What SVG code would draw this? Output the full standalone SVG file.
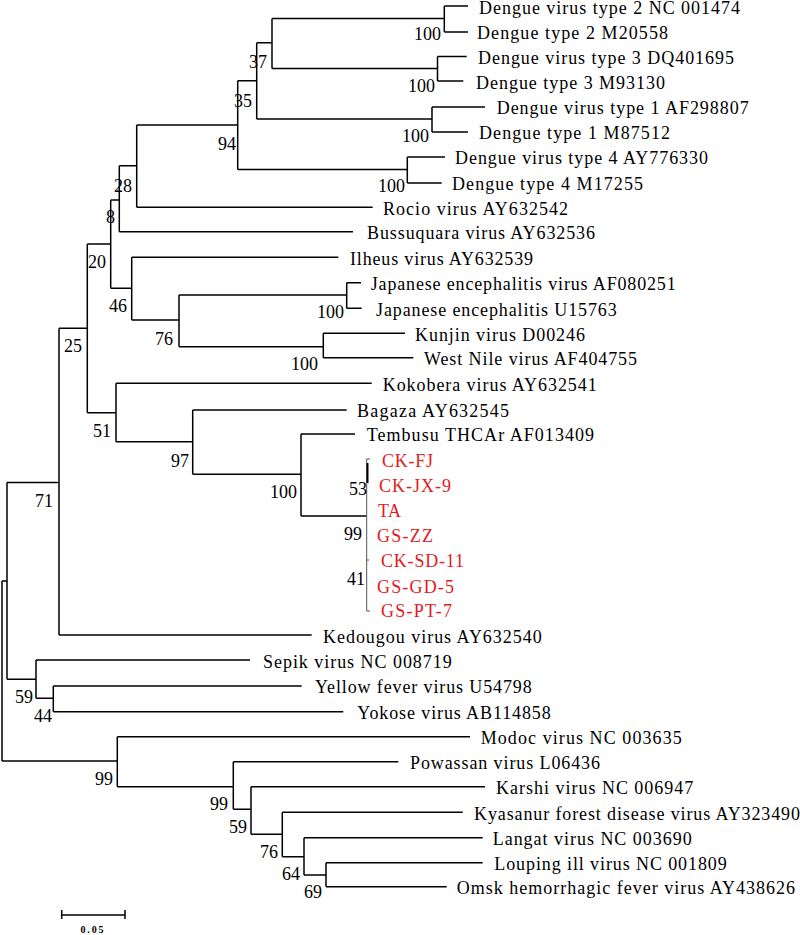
<svg xmlns="http://www.w3.org/2000/svg" width="800" height="935" viewBox="0 0 800 935">
<style>
.br{fill:none;stroke:#000;stroke-width:1.5}
.gr{fill:none;stroke:#555;stroke-width:1}
.lf{font-family:"Liberation Serif","Times New Roman",serif;font-size:18px;fill:#000}
.rd{font-family:"Liberation Serif","Times New Roman",serif;font-size:18px;fill:#e31a1c}
.bs{font-family:"Liberation Serif","Times New Roman",serif;font-size:18px;fill:#000;text-anchor:end}
.sc{font-family:"Liberation Serif","Times New Roman",serif;font-size:10px;font-weight:bold;fill:#000;text-anchor:middle}
</style>
<rect width="800" height="935" fill="#fff"/>
<g id="connectors">
<path class="br" d="M2 581 V761 M2 581 H7 M2 761 H117.3
M7 482.5 V679.3 M7 482.5 H59 M7 679.3 H36
M59 328.3 V635 M59 328.3 H87.3 M59 635 H311.7
M87.3 244 V412.7 M87.3 244 H110.7 M87.3 412.7 H116
M110.7 200 V288.3 M110.7 200 H119.3 M110.7 288.3 H131.7
M119.3 165.7 V231.7 M119.3 165.7 H136.7 M119.3 231.7 H353
M136.7 125 V207.3 M136.7 125 H237.7 M136.7 207.3 H372.7
M237.7 80.7 V169.5 M237.7 80.7 H256.7 M237.7 169.5 H407.3
M256.7 42.7 V119 M256.7 42.7 H272 M256.7 119 H432
M272 18.5 V68.5 M272 18.5 H444.3 M272 68.5 H437.5
M444.3 6 V32 M444.3 6 H468 M444.3 32 H468
M437.5 56.5 V81 M437.5 56.5 H466.7 M437.5 81 H463.3
M432 107 V132 M432 107 H485 M432 132 H468
M407.3 157 V183 M407.3 157 H445 M407.3 183 H441.7
M131.7 257.3 V320 M131.7 257.3 H338.3 M131.7 320 H179
M179 295 V346.7 M179 295 H346.7 M179 346.7 H323.3
M346.7 282.7 V308.3 M346.7 282.7 H361 M346.7 308.3 H361.7
M323.3 333.3 V357.7 M323.3 333.3 H405 M323.3 357.7 H413.3
M116 383.3 V441.7 M116 383.3 H371.7 M116 441.7 H192.7
M192.7 410 V474.3 M192.7 410 H346.7 M192.7 474.3 H301
M301 434 V516 M301 434 H355 M301 516 H366.7
M36 660 V698.3 M36 660 H250 M36 698.3 H53.3
M53.3 686 V711.7 M53.3 686 H301.7 M53.3 711.7 H343.3
M117.3 736.7 V786.7 M117.3 736.7 H470 M117.3 786.7 H233.3
M233.3 761.7 V809.3 M233.3 761.7 H398.3 M233.3 809.3 H251
M251 786.7 V834.3 M251 786.7 H485 M251 834.3 H282.3
M282.3 812.3 V856.7 M282.3 812.3 H462.7 M282.3 856.7 H304
M304 837.7 V875 M304 837.7 H482.7 M304 875 H326
M326 862.7 V886.7 M326 862.7 H482.7 M326 886.7 H446.7"/>
<path class="gr" d="M366.7 459 V611 M366.7 459 H370 M366.7 560 H369 M366.7 611 H370"/>
<path d="M367.5 463 V483" stroke="#000" stroke-width="2" fill="none"/>
</g>
<g id="leaves">
<g id="leaf-d2a"><text class="lf" x="479" y="14" textLength="261" lengthAdjust="spacing">Dengue virus type 2 NC 001474</text></g>
<g id="leaf-d2b"><text class="lf" x="477" y="38.5" textLength="191" lengthAdjust="spacing">Dengue type 2 M20558</text></g>
<g id="leaf-d3a"><text class="lf" x="478" y="63.5" textLength="256" lengthAdjust="spacing">Dengue virus type 3 DQ401695</text></g>
<g id="leaf-d3b"><text class="lf" x="476" y="88.5" textLength="189" lengthAdjust="spacing">Dengue type 3 M93130</text></g>
<g id="leaf-d1a"><text class="lf" x="496.7" y="114" textLength="252" lengthAdjust="spacing">Dengue virus type 1 AF298807</text></g>
<g id="leaf-d1b"><text class="lf" x="479" y="139" textLength="191" lengthAdjust="spacing">Dengue type 1 M87512</text></g>
<g id="leaf-d4a"><text class="lf" x="455" y="164" textLength="253" lengthAdjust="spacing">Dengue virus type 4 AY776330</text></g>
<g id="leaf-d4b"><text class="lf" x="452" y="190" textLength="191" lengthAdjust="spacing">Dengue type 4 M17255</text></g>
<g id="leaf-rocio"><text class="lf" x="383" y="214.5" textLength="185" lengthAdjust="spacing">Rocio virus AY632542</text></g>
<g id="leaf-buss"><text class="lf" x="367" y="239" textLength="228" lengthAdjust="spacing">Bussuquara virus AY632536</text></g>
<g id="leaf-ilheus"><text class="lf" x="350" y="264.5" textLength="183" lengthAdjust="spacing">Ilheus virus AY632539</text></g>
<g id="leaf-je1"><text class="lf" x="370.7" y="290" textLength="305" lengthAdjust="spacing">Japanese encephalitis virus AF080251</text></g>
<g id="leaf-je2"><text class="lf" x="376" y="315.5" textLength="240.7" lengthAdjust="spacing">Japanese encephalitis U15763</text></g>
<g id="leaf-kunjin"><text class="lf" x="415" y="340.5" textLength="170" lengthAdjust="spacing">Kunjin virus D00246</text></g>
<g id="leaf-wn"><text class="lf" x="424" y="365" textLength="213" lengthAdjust="spacing">West Nile virus AF404755</text></g>
<g id="leaf-kokobera"><text class="lf" x="382.7" y="390.5" textLength="214" lengthAdjust="spacing">Kokobera virus AY632541</text></g>
<g id="leaf-bagaza"><text class="lf" x="357" y="417" textLength="152" lengthAdjust="spacing">Bagaza AY632545</text></g>
<g id="leaf-tembusu"><text class="lf" x="366.7" y="441" textLength="227.3" lengthAdjust="spacing">Tembusu THCAr AF013409</text></g>
<g id="leaf-ckfj"><text class="rd" x="382" y="467" textLength="51" lengthAdjust="spacing">CK-FJ</text></g>
<g id="leaf-ckjx9"><text class="rd" x="379" y="492" textLength="72" lengthAdjust="spacing">CK-JX-9</text></g>
<g id="leaf-ta"><text class="rd" x="378" y="517" textLength="23" lengthAdjust="spacing">TA</text></g>
<g id="leaf-gszz"><text class="rd" x="377" y="542" textLength="56" lengthAdjust="spacing">GS-ZZ</text></g>
<g id="leaf-cksd11"><text class="rd" x="381" y="567" textLength="83" lengthAdjust="spacing">CK-SD-11</text></g>
<g id="leaf-gsgd5"><text class="rd" x="377" y="593" textLength="77" lengthAdjust="spacing">GS-GD-5</text></g>
<g id="leaf-gspt7"><text class="rd" x="381" y="617" textLength="71" lengthAdjust="spacing">GS-PT-7</text></g>
<g id="leaf-kedougou"><text class="lf" x="323" y="642.5" textLength="218.7" lengthAdjust="spacing">Kedougou virus AY632540</text></g>
<g id="leaf-sepik"><text class="lf" x="263" y="667.5" textLength="188.7" lengthAdjust="spacing">Sepik virus NC 008719</text></g>
<g id="leaf-yf"><text class="lf" x="315" y="693" textLength="216.7" lengthAdjust="spacing">Yellow fever virus U54798</text></g>
<g id="leaf-yokose"><text class="lf" x="357.3" y="719" textLength="193.4" lengthAdjust="spacing">Yokose virus AB114858</text></g>
<g id="leaf-modoc"><text class="lf" x="480.7" y="744" textLength="201" lengthAdjust="spacing">Modoc virus NC 003635</text></g>
<g id="leaf-powassan"><text class="lf" x="410" y="769" textLength="190" lengthAdjust="spacing">Powassan virus L06436</text></g>
<g id="leaf-karshi"><text class="lf" x="496" y="794" textLength="197.3" lengthAdjust="spacing">Karshi virus NC 006947</text></g>
<g id="leaf-kyasanur"><text class="lf" x="474" y="819.5" textLength="326" lengthAdjust="spacing">Kyasanur forest disease virus AY323490</text></g>
<g id="leaf-langat"><text class="lf" x="492.7" y="845" textLength="199" lengthAdjust="spacing">Langat virus NC 003690</text></g>
<g id="leaf-louping"><text class="lf" x="494.3" y="870" textLength="232.4" lengthAdjust="spacing">Louping ill virus NC 001809</text></g>
<g id="leaf-omsk"><text class="lf" x="456.7" y="894" textLength="338.3" lengthAdjust="spacing">Omsk hemorrhagic fever virus AY438626</text></g>
</g>
<g id="bootstrap">
<g id="n-d2"><text class="bs" x="441" y="40">100</text></g>
<g id="n-37"><text class="bs" x="267" y="68">37</text></g>
<g id="n-d3"><text class="bs" x="435" y="92">100</text></g>
<g id="n-35"><text class="bs" x="252" y="107">35</text></g>
<g id="n-d1"><text class="bs" x="429" y="142">100</text></g>
<g id="n-94"><text class="bs" x="236" y="150">94</text></g>
<g id="n-d4"><text class="bs" x="405" y="192">100</text></g>
<g id="n-28"><text class="bs" x="132" y="192">28</text></g>
<g id="n-8"><text class="bs" x="115" y="223">8</text></g>
<g id="n-20"><text class="bs" x="106" y="268">20</text></g>
<g id="n-46"><text class="bs" x="127" y="312">46</text></g>
<g id="n-je"><text class="bs" x="344" y="318">100</text></g>
<g id="n-76a"><text class="bs" x="173" y="345">76</text></g>
<g id="n-25"><text class="bs" x="82" y="352">25</text></g>
<g id="n-kun"><text class="bs" x="318" y="370">100</text></g>
<g id="n-51"><text class="bs" x="111" y="437">51</text></g>
<g id="n-97"><text class="bs" x="189" y="467">97</text></g>
<g id="n-53"><text class="bs" x="367" y="495">53</text></g>
<g id="n-100t"><text class="bs" x="297" y="498">100</text></g>
<g id="n-71"><text class="bs" x="53" y="507">71</text></g>
<g id="n-99r"><text class="bs" x="362" y="540">99</text></g>
<g id="n-41"><text class="bs" x="365" y="585">41</text></g>
<g id="n-59a"><text class="bs" x="33" y="703">59</text></g>
<g id="n-44"><text class="bs" x="52" y="722">44</text></g>
<g id="n-99a"><text class="bs" x="113" y="785">99</text></g>
<g id="n-99b"><text class="bs" x="228" y="810">99</text></g>
<g id="n-59b"><text class="bs" x="247" y="833">59</text></g>
<g id="n-76b"><text class="bs" x="278" y="858">76</text></g>
<g id="n-64"><text class="bs" x="300" y="880">64</text></g>
<g id="n-69"><text class="bs" x="322" y="898">69</text></g>
</g>
<g id="scale-bar">
<path class="br" d="M61.7 915 H125 M61.7 910 V919 M125 910 V919"/>
<text class="sc" x="92" y="933" textLength="23" lengthAdjust="spacing">0.05</text>
</g>
</svg>
